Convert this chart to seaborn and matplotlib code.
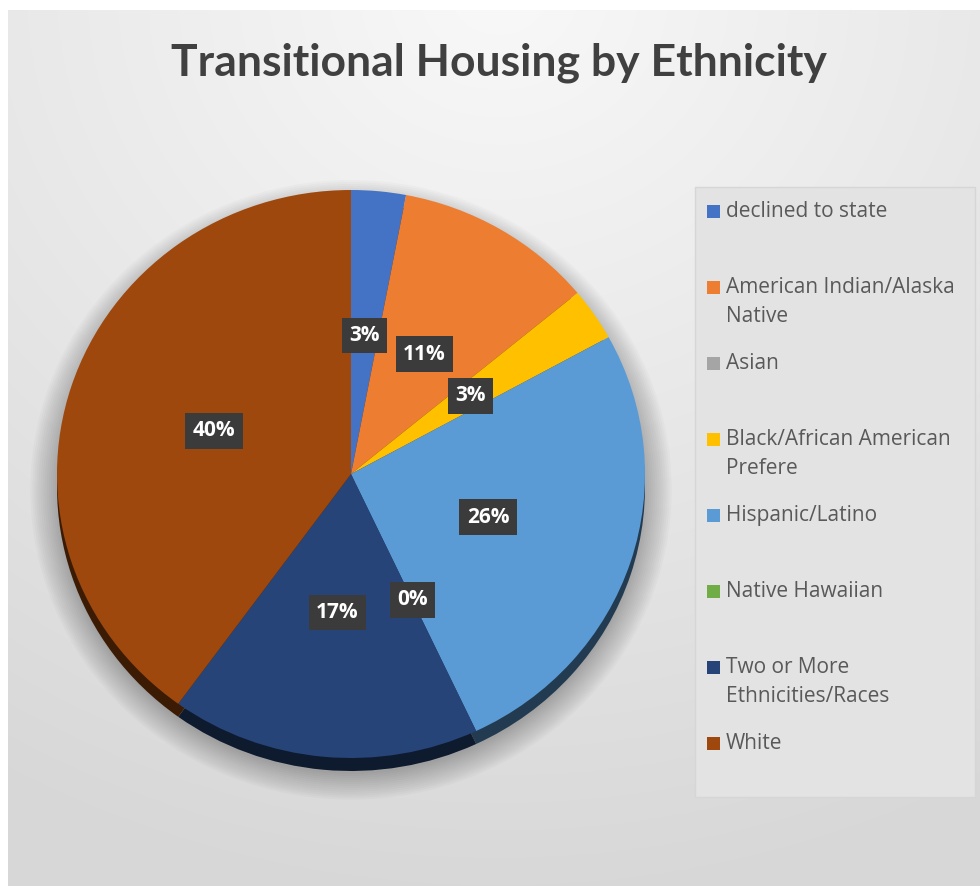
import numpy as np
import matplotlib
matplotlib.use("Agg")
import matplotlib.pyplot as plt
import seaborn as sns
from matplotlib.patches import Rectangle, Ellipse
from matplotlib.colors import to_rgb

sns.set_theme(style="white")
plt.rcParams["font.family"] = ["Open Sans", "DejaVu Sans"]

# data
categories = ["declined to state", "American Indian/Alaska\nNative", "Asian",
              "Black/African American\nPrefere", "Hispanic/Latino", "Native Hawaiian",
              "Two or More\nEthnicities/Races", "White"]
shares = [3, 11, 0, 3, 26, 0, 17, 40]
colors = ["#4472C4", "#ED7D31", "#A5A5A5", "#FFC000", "#5B9BD5", "#70AD47", "#264478", "#9E480E"]

W, H = 980, 886
fig = plt.figure(figsize=(W / 100, H / 100), dpi=100)
fig.patch.set_facecolor("white")

# background panel with soft radial gradient
bg = fig.add_axes([8 / W, 0, 1 - 8 / W, 1 - 10 / H])
yy, xx = np.mgrid[0:876, 0:972]
d = np.sqrt((xx - 490) ** 2 + ((yy + 20) * 1.1) ** 2)
g = 0.975 - 0.13 * np.clip(d / 1000, 0, 1)
bg.imshow(np.dstack([g, g, g]), aspect="auto", extent=[0, 1, 0, 1], origin="upper")
bg.set_axis_off()

# title
fig.text(499 / W, 1 - 63 / H, "Transitional Housing by Ethnicity", ha="center", va="center",
         fontsize=32, fontweight="bold", color="#404040", family=["Lato", "DejaVu Sans"])

# pie (slightly tilted: ellipse with a dark side)
rx, ry = 294, 284
cx, cy = 351, 474
m = 1.15
ax = fig.add_axes([(cx - m * rx) / W, (H - cy - m * ry) / H, 2 * m * rx / W, 2 * m * ry / H])
depth = 13 / ry

# soft shadow
for k in range(14):
    ax.add_patch(Ellipse((0, -depth - 0.01), 2 * (1.0 + 0.007 * k), 2 * (1.0 + 0.007 * k),
                         facecolor="black", edgecolor="none", alpha=0.02, zorder=0))

dark = [tuple(v * 0.38 for v in to_rgb(c)) for c in colors]
ax.pie(shares, colors=dark, startangle=90, counterclock=False, radius=1,
       center=(0, -depth), wedgeprops=dict(linewidth=0))
wedges, texts, autotexts = ax.pie(shares, colors=colors, startangle=90, counterclock=False,
                                  radius=1, autopct="%1.0f%%", pctdistance=0.49,
                                  wedgeprops=dict(linewidth=0))
for name, t in zip(categories, autotexts):
    t.set_color("white")
    t.set_fontsize(15)
    t.set_fontweight("bold")
    t.set_bbox(dict(boxstyle="square,pad=0.35", facecolor="#3b3b3b", edgecolor="none"))
    if name == "Asian":
        t.set_visible(False)  # hidden behind the Black/African American label in the original
ax.set_xlim(-m, m)
ax.set_ylim(-m, m)
ax.set_aspect("auto")
ax.set_axis_off()

# legend box
fig.patches.append(Rectangle((695 / W, 1 - 797 / H), 280 / W, 610 / H, transform=fig.transFigure,
                             facecolor="#e3e3e3", edgecolor="#d6d6d6", linewidth=1, zorder=1))
top = 212
step = 76
for i, (name, c) in enumerate(zip(categories, colors)):
    y = top + i * step
    fig.patches.append(Rectangle((707 / W, 1 - (y + 6) / H), 13 / W, 13 / H, transform=fig.transFigure,
                                 facecolor=c, edgecolor="none", zorder=2))
    fig.text(726 / W, 1 - (y - 11) / H, name, ha="left", va="top", fontsize=15,
             color="#595959", linespacing=1.5, zorder=3)

fig.savefig("out.png", dpi=100)
